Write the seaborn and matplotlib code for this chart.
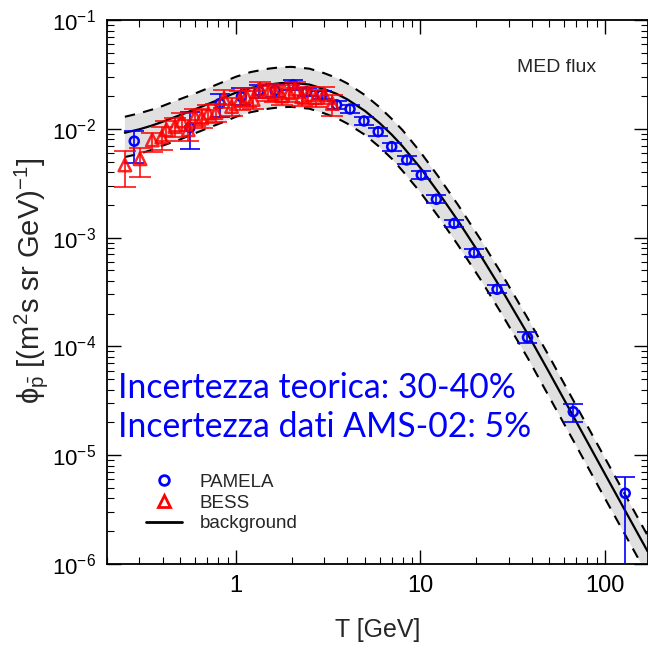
import numpy as np
import pandas as pd
import matplotlib
matplotlib.use("Agg")
import matplotlib.pyplot as plt
import seaborn as sns
from matplotlib.ticker import LogLocator, FixedLocator, FuncFormatter, NullFormatter
from matplotlib.lines import Line2D

# ---------------- data ----------------
bg_T = [0.25, 0.3, 0.35, 0.4, 0.5, 0.6, 0.7, 0.85, 1.0, 1.2, 1.5, 1.75, 2.0, 2.5,
        3.0, 3.5, 4.0, 5.0, 6.0, 7.0, 8.0, 10.0, 12.5, 16.0, 21.0, 27.5, 38.0,
        50.0, 70.0, 100.0, 170.0]
bg_flux = [0.0092, 0.0099, 0.0107, 0.0116, 0.0134, 0.0151, 0.0168, 0.0192, 0.0215,
           0.0237, 0.0255, 0.0263, 0.0265, 0.0255, 0.0232, 0.0210, 0.0187, 0.0146,
           0.0113, 0.0088, 0.0069, 0.00436, 0.0026, 0.00142, 7.0e-4, 3.33e-4, 1.31e-4,
           5.7e-5, 2.02e-5, 6.7e-6, 1.31e-6]
bg_upper = [0.0129, 0.0139, 0.0150, 0.0162, 0.0188, 0.0211, 0.0235, 0.0269, 0.0301,
            0.0332, 0.0357, 0.0368, 0.0371, 0.0357, 0.0325, 0.0294, 0.0262, 0.0204,
            0.0158, 0.0123, 0.0097, 0.0061, 0.00364, 0.00199, 9.8e-4, 4.66e-4, 1.83e-4,
            8.0e-5, 2.83e-5, 9.4e-6, 1.83e-6]
bg_lower = [0.0055, 0.0059, 0.0064, 0.0070, 0.0080, 0.0091, 0.0101, 0.0115, 0.0129,
            0.0142, 0.0153, 0.0158, 0.0159, 0.0153, 0.0139, 0.0126, 0.0112, 0.0088,
            0.0068, 0.0053, 0.0041, 0.0026, 0.00156, 8.5e-4, 4.2e-4, 2.0e-4, 7.9e-5,
            3.4e-5, 1.21e-5, 4.0e-6, 7.9e-7]

pamela_T = [0.281, 0.563, 0.819, 1.07, 1.33, 1.63, 2.04, 2.42, 2.91, 3.51, 4.15, 4.94,
            5.9, 6.98, 8.42, 10.1, 12.2, 15.2, 19.5, 26.0, 38.0, 67.3, 128.7]
pamela_flux = [0.0077, 0.0103, 0.0171, 0.0197, 0.0222, 0.0225, 0.0253, 0.0219, 0.0205,
               0.0166, 0.0152, 0.0118, 0.0094, 0.00686, 0.00517, 0.00376, 0.00225,
               0.00135, 7.26e-4, 3.35e-4, 1.21e-4, 2.51e-5, 4.47e-6]
pamela_lo = [0.0049, 0.0065, 0.0129, 0.0165, 0.0190, 0.0195, 0.0228, 0.0200, 0.0188,
             0.0152, 0.0139, 0.0108, 0.0086, 0.00630, 0.00474, 0.00345, 0.00206,
             0.00124, 6.65e-4, 3.07e-4, 1.07e-4, 2.0e-5, 1.0e-7]
pamela_hi = [0.0095, 0.0142, 0.0209, 0.0235, 0.0255, 0.0258, 0.0278, 0.0238, 0.0222,
             0.0180, 0.0165, 0.0128, 0.0102, 0.00742, 0.00560, 0.00407, 0.00244,
             0.00146, 7.87e-4, 3.63e-4, 1.36e-4, 2.95e-5, 6.35e-6]

bess_T = [0.25, 0.302, 0.352, 0.396, 0.42, 0.467, 0.508, 0.551, 0.60, 0.652, 0.708,
          0.779, 0.861, 0.947, 1.05, 1.14, 1.24, 1.35, 1.50, 1.63, 1.77, 1.94, 2.09,
          2.27, 2.47, 2.71, 3.0, 3.33]
bess_flux = [0.00465, 0.0053, 0.0079, 0.0084, 0.0098, 0.0105, 0.0118, 0.0098, 0.0129,
             0.0126, 0.0139, 0.0141, 0.0190, 0.0160, 0.0186, 0.0197, 0.0186, 0.0231,
             0.0219, 0.0212, 0.0200, 0.0214, 0.0231, 0.0197, 0.0205, 0.0193, 0.0205,
             0.0171]
bess_lo = [0.0029, 0.0036, 0.0061, 0.0064, 0.0078, 0.0084, 0.0095, 0.0078, 0.0105,
           0.0102, 0.0113, 0.0115, 0.0155, 0.0130, 0.0150, 0.0160, 0.0152, 0.0190,
           0.0180, 0.0175, 0.0165, 0.0176, 0.0190, 0.0162, 0.0168, 0.0158, 0.0168,
           0.0130]
bess_hi = [0.0063, 0.0067, 0.0091, 0.0103, 0.0118, 0.0126, 0.0140, 0.0120, 0.0152,
           0.0150, 0.0165, 0.0168, 0.0225, 0.0190, 0.0222, 0.0235, 0.0222, 0.0272,
           0.0258, 0.0250, 0.0236, 0.0252, 0.0272, 0.0232, 0.0242, 0.0228, 0.0242,
           0.0205]

x_major = [1, 10, 100]
x_labels = ["1", "10", "100"]
legend_labels = ["PAMELA", "BESS", "background"]

# ---------------- styling ----------------
sns.set_theme(style="ticks")
plt.rcParams['font.family'] = ['Liberation Sans', 'DejaVu Sans']
plt.rcParams['mathtext.fontset'] = 'custom'
plt.rcParams['mathtext.rm'] = 'Liberation Sans'
plt.rcParams['mathtext.it'] = 'Liberation Sans:italic'
plt.rcParams['mathtext.bf'] = 'Liberation Sans:bold'

fig = plt.figure(figsize=(6.48, 6.45), dpi=100)
ax = fig.add_axes([107 / 648, 1 - 564 / 645, 541 / 648, 544 / 645])
ax.set_xscale('log')
ax.set_yscale('log')

bg = pd.DataFrame({'T': bg_T, 'flux': bg_flux, 'up': bg_upper, 'lo': bg_lower})
pam = pd.DataFrame({'T': pamela_T, 'flux': pamela_flux, 'lo': pamela_lo, 'hi': pamela_hi})
bess = pd.DataFrame({'T': bess_T, 'flux': bess_flux, 'lo': bess_lo, 'hi': bess_hi})

# uncertainty band
ax.fill_between(bg['T'], bg['lo'], bg['up'], facecolor='#e0e0e0', edgecolor='none',
                zorder=1)
sns.lineplot(data=bg, x='T', y='up', color='black', lw=1.5, ax=ax, zorder=2,
             estimator=None, sort=False)
ax.lines[-1].set_dashes([5, 4])
sns.lineplot(data=bg, x='T', y='lo', color='black', lw=1.5, ax=ax, zorder=2,
             estimator=None, sort=False)
ax.lines[-1].set_dashes([5, 4])
sns.lineplot(data=bg, x='T', y='flux', color='black', lw=1.6, ax=ax, zorder=3,
             estimator=None, sort=False)

# PAMELA
ax.errorbar(pam['T'], pam['flux'], yerr=[pam['flux'] - pam['lo'], pam['hi'] - pam['flux']],
            fmt='none', ecolor='blue', elinewidth=1.2, capsize=7, capthick=1.2, zorder=4)
sns.scatterplot(data=pam, x='T', y='flux', marker='o', s=42, facecolor='none',
                edgecolor='blue', linewidth=1.8, ax=ax, zorder=5)

# BESS
ax.errorbar(bess['T'], bess['flux'], yerr=[bess['flux'] - bess['lo'], bess['hi'] - bess['flux']],
            fmt='none', ecolor='red', elinewidth=1.3, capsize=8, capthick=1.3, alpha=0.85,
            zorder=6)
sns.scatterplot(data=bess, x='T', y='flux', marker='^', s=80, facecolor='none',
                edgecolor='red', linewidth=1.8, alpha=0.85, ax=ax, zorder=7)

ax.set_xlim(0.2, 171)
ax.set_ylim(1e-6, 1e-1)

# ticks
ax.xaxis.set_major_locator(FixedLocator(x_major))
ax.xaxis.set_major_formatter(FuncFormatter(lambda v, p: x_labels[x_major.index(v)] if v in x_major else ''))
ax.xaxis.set_minor_locator(LogLocator(base=10, subs=np.arange(2, 10), numticks=20))
ax.xaxis.set_minor_formatter(NullFormatter())
ax.yaxis.set_major_locator(LogLocator(base=10, numticks=10))
ax.yaxis.set_minor_locator(LogLocator(base=10, subs=np.arange(2, 10), numticks=20))
ax.yaxis.set_minor_formatter(NullFormatter())
ax.tick_params(which='both', direction='in', top=True, right=True, colors='black')
ax.tick_params(which='major', length=10, width=1.0)
ax.tick_params(which='minor', length=5, width=0.8)
ax.tick_params(axis='x', which='major', labelsize=17, pad=8)
ax.tick_params(axis='y', which='major', labelsize=16, pad=8)
for sp in ax.spines.values():
    sp.set_linewidth(1.3)
    sp.set_color('black')

ax.set_xlabel('T [GeV]', fontsize=18)
ax.xaxis.set_label_coords(0.5, -0.100)
ax.set_ylabel(r'$\mathrm{\phi}_{\bar{\mathrm{p}}}$ [(m$^2$s sr GeV)$^{-1}$]', fontsize=21)
ax.yaxis.set_label_coords(-0.106, 0.52)

# annotations
fig.text(517 / 648, 1 - 68 / 645, 'MED flux', fontsize=14, ha='left', va='center')
fig.text(118 / 648, 1 - 388 / 645, 'Incertezza teorica: 30-40%', color='blue',
         fontsize=24.3, family=['Lato', 'DejaVu Sans'], ha='left', va='center')
fig.text(118 / 648, 1 - 427 / 645, 'Incertezza dati AMS-02: 5%', color='blue',
         fontsize=24.3, family=['Lato', 'DejaVu Sans'], ha='left', va='center')

handles = [
    Line2D([], [], marker='o', ls='none', mfc='none', mec='blue', mew=2, ms=7),
    Line2D([], [], marker='^', ls='none', mfc='none', mec='red', mew=2, ms=8),
    Line2D([], [], color='black', lw=2),
]
ax.legend(handles, legend_labels, loc='upper left', bbox_to_anchor=(138 / 648, 1 - 466 / 645),
          bbox_transform=fig.transFigure, frameon=False, fontsize=13.5, handlelength=1.94,
          handletextpad=0.94, labelspacing=0.2, borderaxespad=0)

fig.savefig('out.png', dpi=100)
